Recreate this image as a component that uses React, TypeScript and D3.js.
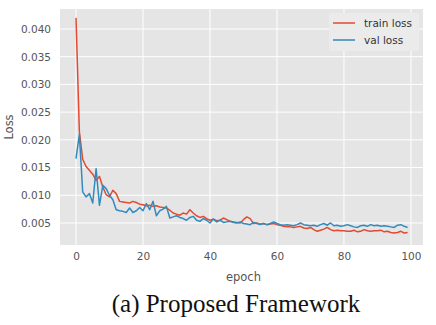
import React, { useRef, useEffect } from "react";
import * as d3 from "d3";

const trainLoss = [
  0.042, 0.0215, 0.0165, 0.0152, 0.0145, 0.0138, 0.0127, 0.0134, 0.0115, 0.0101,
  0.0097, 0.0109, 0.0103, 0.0089, 0.0088, 0.0087, 0.0086, 0.0089, 0.0087, 0.0084,
  0.0083, 0.0081, 0.0082, 0.008, 0.0081, 0.0079, 0.0078, 0.0077, 0.0073, 0.0068,
  0.0066, 0.0064, 0.0068, 0.0066, 0.0074, 0.0068, 0.0063, 0.006, 0.0062, 0.0058,
  0.0055, 0.0057, 0.0054, 0.0055, 0.0059, 0.0056, 0.0053, 0.0052, 0.0051, 0.005,
  0.0056, 0.0061, 0.0058, 0.0049, 0.005, 0.0048, 0.0049, 0.0047, 0.0048, 0.0049,
  0.0047, 0.0046, 0.0044, 0.0043, 0.0043, 0.0042, 0.0043, 0.0044, 0.0041, 0.004,
  0.0042, 0.0038, 0.0035, 0.0037, 0.0039, 0.0042, 0.0038, 0.0036, 0.0037, 0.0036,
  0.0036, 0.0035, 0.0035, 0.0037, 0.0034, 0.0035, 0.0038, 0.0036, 0.0035, 0.0036,
  0.0036, 0.0037, 0.0034, 0.0035, 0.0033, 0.0032, 0.0033, 0.0035, 0.0032, 0.0033,
];

const valLoss = [
  0.0166, 0.021, 0.0106, 0.0097, 0.0103, 0.0086, 0.0148, 0.0082, 0.0118, 0.0112,
  0.01, 0.0092, 0.0074, 0.0072, 0.0071, 0.0069, 0.0077, 0.0069, 0.0072, 0.0078,
  0.0072, 0.0085, 0.0074, 0.0089, 0.0063, 0.0072, 0.0075, 0.008, 0.0059, 0.0061,
  0.0063, 0.006, 0.0058, 0.0055, 0.006, 0.0062, 0.0055, 0.0053, 0.0058, 0.0055,
  0.005, 0.0057, 0.0052, 0.0055, 0.0051, 0.0052, 0.0053, 0.0051, 0.005, 0.0052,
  0.0049, 0.0048, 0.0047, 0.0051, 0.0049, 0.0047, 0.0049, 0.0047, 0.0049, 0.0052,
  0.0049, 0.0047, 0.0046, 0.0047, 0.0046, 0.0045, 0.0047, 0.005, 0.0047, 0.0046,
  0.0045, 0.0046, 0.0044, 0.0047, 0.0049, 0.0046, 0.005, 0.0045, 0.0046, 0.0044,
  0.0045, 0.0047, 0.0045, 0.0043, 0.0042, 0.0045, 0.0046, 0.0044, 0.0047, 0.0045,
  0.0046, 0.0044, 0.0045, 0.0044, 0.0043, 0.0042, 0.0046, 0.0047, 0.0044, 0.0042,
];

const xTicks = [0, 20, 40, 60, 80, 100];
const yTicks = [0.005, 0.01, 0.015, 0.02, 0.025, 0.03, 0.035, 0.04];
const seriesNames = ["train loss", "val loss"];
const caption = "(a) Proposed Framework";

export default function App() {
  const ref = useRef<SVGSVGElement>(null);

  useEffect(() => {
    const width = 436;
    const height = 325;
    const plot = { left: 60, right: 423, top: 9, bottom: 245 };
    const colors = ["#E24A33", "#348ABD"];

    const svg = d3.select(ref.current);
    svg.selectAll("*").remove();
    svg.attr("width", width).attr("height", height);

    svg.append("rect").attr("width", width).attr("height", height).attr("fill", "#fff");

    const x = d3.scaleLinear().domain([-4.78, 103.6]).range([plot.left, plot.right]);
    const y = d3.scaleLinear().domain([0.00103, 0.0436]).range([plot.bottom, plot.top]);

    // axes background
    svg
      .append("rect")
      .attr("x", plot.left)
      .attr("y", plot.top)
      .attr("width", plot.right - plot.left)
      .attr("height", plot.bottom - plot.top)
      .attr("fill", "#E5E5E5");

    // grid
    const grid = svg.append("g").attr("stroke", "#fff").attr("stroke-width", 1);
    grid
      .selectAll("line.v")
      .data(xTicks)
      .enter()
      .append("line")
      .attr("x1", d => x(d))
      .attr("x2", d => x(d))
      .attr("y1", plot.top)
      .attr("y2", plot.bottom);
    grid
      .selectAll("line.h")
      .data(yTicks)
      .enter()
      .append("line")
      .attr("x1", plot.left)
      .attr("x2", plot.right)
      .attr("y1", d => y(d))
      .attr("y2", d => y(d));

    const font = "'DejaVu Sans', sans-serif";

    // X axis
    const xAxis = svg
      .append("g")
      .attr("transform", `translate(0,${plot.bottom})`)
      .call(d3.axisBottom(x).tickValues(xTicks).tickSize(0).tickPadding(8).tickFormat(d3.format("d")));
    xAxis.select(".domain").remove();
    xAxis.selectAll("text").style("fill", "#555").style("font-size", "10.5px").style("font-family", font);

    // Y axis
    const yAxis = svg
      .append("g")
      .attr("transform", `translate(${plot.left},0)`)
      .call(d3.axisLeft(y).tickValues(yTicks).tickSize(0).tickPadding(9).tickFormat(d3.format(".3f")));
    yAxis.select(".domain").remove();
    yAxis.selectAll("text").style("fill", "#555").style("font-size", "10.5px").style("font-family", font);

    // lines
    const line = d3
      .line<number>()
      .x((_, i) => x(i))
      .y(d => y(d));

    [trainLoss, valLoss].forEach((data, i) => {
      svg
        .append("path")
        .datum(data)
        .attr("fill", "none")
        .attr("stroke", colors[i])
        .attr("stroke-width", 1.5)
        .attr("stroke-linejoin", "round")
        .attr("d", line);
    });

    // legend
    const lg = svg.append("g");
    lg.append("rect")
      .attr("x", 329)
      .attr("y", 13)
      .attr("width", 90)
      .attr("height", 38)
      .attr("rx", 2)
      .attr("fill", "#EBEBEB");
    seriesNames.forEach((name, i) => {
      const ly = 23 + i * 17;
      lg.append("line")
        .attr("x1", 333)
        .attr("x2", 355)
        .attr("y1", ly)
        .attr("y2", ly)
        .attr("stroke", colors[i])
        .attr("stroke-width", 1.5);
      lg.append("text")
        .attr("x", 364)
        .attr("y", ly + 4)
        .attr("fill", "#333")
        .style("font-size", "10.5px")
        .style("font-family", font)
        .text(name);
    });

    // axis labels
    svg
      .append("text")
      .attr("x", x(50))
      .attr("y", 281)
      .attr("text-anchor", "middle")
      .attr("fill", "#555")
      .style("font-size", "11.5px")
      .style("font-family", font)
      .text("epoch");

    svg
      .append("text")
      .attr("transform", `translate(13,${(plot.top + plot.bottom) / 2}) rotate(-90)`)
      .attr("text-anchor", "middle")
      .attr("fill", "#555")
      .style("font-size", "11.5px")
      .style("font-family", font)
      .text("Loss");

    svg
      .append("text")
      .attr("x", 236)
      .attr("y", 312)
      .attr("text-anchor", "middle")
      .attr("fill", "#111")
      .style("font-size", "25px")
      .style("font-family", "'Liberation Serif', 'Times New Roman', serif")
      .text(caption);
  }, []);

  return (
    <div style={{ position: "absolute", left: 0, top: 0 }}>
      <svg ref={ref}></svg>
    </div>
  );
}
